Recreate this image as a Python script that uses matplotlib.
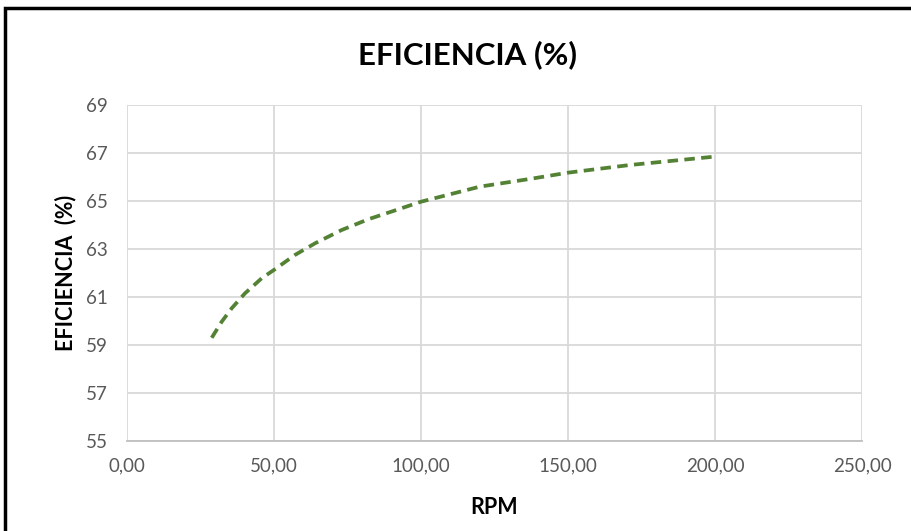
import matplotlib
matplotlib.use("Agg")
import matplotlib.pyplot as plt
from matplotlib.patches import Rectangle
from matplotlib.ticker import FuncFormatter, MultipleLocator, FixedLocator

# Data
rpm = [28.8, 32.2, 35.6, 40.1, 45.8, 50.0, 57.1, 64.0, 73.0, 82.1, 90.0,
       100.0, 120.1, 137.1, 150.0, 171.1, 200.0]
eficiencia = [59.30, 59.97, 60.53, 61.15, 61.78, 62.13, 62.75, 63.24, 63.79,
              64.24, 64.56, 64.97, 65.60, 65.92, 66.18, 66.50, 66.85]

y_ticks = [55, 57, 59, 61, 63, 65, 67, 69]
title = "EFICIENCIA (%)"
xlabel = "RPM"
ylabel = "EFICIENCIA  (%)"

plt.rcParams['font.family'] = ['Lato', 'DejaVu Sans']

fig = plt.figure(figsize=(9.12, 5.31), dpi=100)
ax = fig.add_axes([0.1393, 0.1695, 0.9452 - 0.1393, 0.8023 - 0.1695])

ax.plot(rpm, eficiencia, color='#548235', linewidth=2.7,
        linestyle=(0, (2.8, 1.7)), dash_capstyle='butt', zorder=3)

ax.set_xlim(0, 250)
ax.set_ylim(55, 69)
ax.xaxis.set_major_locator(MultipleLocator(50))
ax.yaxis.set_major_locator(FixedLocator(y_ticks))
ax.xaxis.set_major_formatter(FuncFormatter(lambda v, p: f"{v:.2f}".replace('.', ',')))
ax.yaxis.set_major_formatter(FuncFormatter(lambda v, p: f"{v:.0f}"))

ax.grid(True, color='#d9d9d9', linewidth=1.3)
ax.set_axisbelow(True)
for s in ['top', 'right', 'left']:
    ax.spines[s].set_visible(False)
ax.spines['bottom'].set_color('#bfbfbf')
ax.spines['bottom'].set_linewidth(1.3)
ax.tick_params(length=0, labelsize=13.5, colors='#595959')
ax.tick_params(axis='x', pad=12)
ax.tick_params(axis='y', pad=14)

ax.set_xlabel(xlabel, fontsize=15.5, fontweight='bold', color='black', labelpad=16)
ax.set_ylabel(ylabel, fontsize=15.5, fontweight='bold', color='black', labelpad=7)

fig.text(0.513, 0.897, title, ha='center', va='center', fontsize=22.5, fontweight='bold')

# Outer black frame (cropped at right and bottom)
fig.patches.append(Rectangle((5 / 912, -0.2), 1.5, (531 - 8) / 531 + 0.2,
                             transform=fig.transFigure, fill=False,
                             edgecolor='black', linewidth=2.5))

fig.savefig("out.png", dpi=100)
